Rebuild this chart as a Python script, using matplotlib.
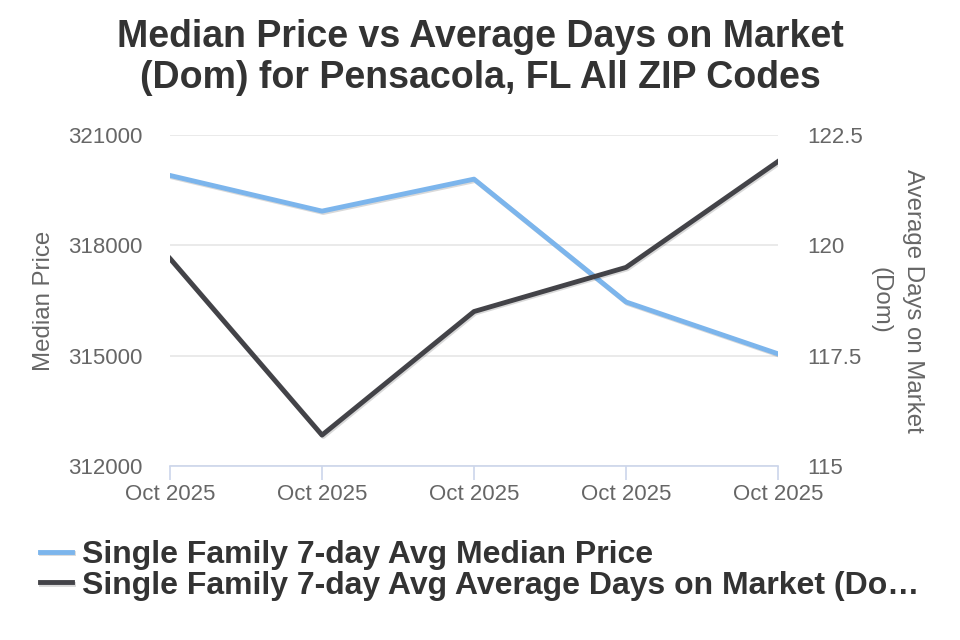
import matplotlib
matplotlib.use("Agg")
import matplotlib.pyplot as plt
import matplotlib.patheffects as pe

plt.rcParams['font.family'] = ['Liberation Sans', 'DejaVu Sans']

# data
dates = ["Oct 2025", "Oct 2025", "Oct 2025", "Oct 2025", "Oct 2025"]
median_price = [319900, 318930, 319800, 316460, 315050]
avg_dom = [119.7, 115.7, 118.5, 119.5, 121.9]
price_ticks = [312000, 315000, 318000, 321000]
dom_ticks = [115, 117.5, 120, 122.5]
dom_tick_labels = ["115", "117.5", "120", "122.5"]

blue = "#7cb5ec"
dark = "#434348"
grey = "#666666"

fig = plt.figure(figsize=(9.6, 6.4), dpi=100)
ax = fig.add_axes([170/960, 1-466/640, 608/960, 331/640])
ax2 = ax.twinx()

shadow = [pe.SimpleLineShadow(offset=(1, -1), alpha=0.15, shadow_color="black"), pe.Normal()]
x = list(range(len(dates)))
l1, = ax.plot(x, median_price, color=blue, lw=3.5, solid_joinstyle="round",
              path_effects=shadow, zorder=3)
l2, = ax2.plot(x, avg_dom, color=dark, lw=3.5, solid_joinstyle="round",
               path_effects=shadow, zorder=3)

ax.set_xlim(0, 4)
ax.set_ylim(312000, 321000)
ax2.set_ylim(115, 122.5)
ax.set_yticks(price_ticks)
ax.set_yticklabels([str(t) for t in price_ticks])
ax2.set_yticks(dom_ticks)
ax2.set_yticklabels(dom_tick_labels)
ax.set_xticks(x)
ax.set_xticklabels(dates)

ax.grid(axis="y", color="#e6e6e6", lw=1.2)
ax.set_axisbelow(True)
for a in (ax, ax2):
    for s in ["top", "left", "right", "bottom"]:
        a.spines[s].set_visible(False)
ax.spines["bottom"].set_visible(True)
ax.spines["bottom"].set_color("#ccd6eb")
ax.spines["bottom"].set_linewidth(1.2)

ax.tick_params(axis="x", colors="#ccd6eb", length=10, width=1.2, labelcolor=grey,
               labelsize=16, pad=3)
ax.tick_params(axis="y", length=0, labelcolor=grey, labelsize=16, pad=20)
ax2.tick_params(axis="y", length=0, labelcolor=grey, labelsize=16, pad=21)

ax.set_ylabel("Median Price", color=grey, fontsize=17.3, labelpad=9)
ax2.set_ylabel("Average Days on Market\n(Dom)", color=grey, fontsize=17.3,
               rotation=-90, labelpad=44, linespacing=1.6)

fig.suptitle("Median Price vs Average Days on Market\n(Dom) for Pensacola, FL All ZIP Codes",
             x=0.5, y=1-19/640, va="top", fontsize=27, fontweight="bold", color="#333333",
             linespacing=1.17)

fig.legend([l1, l2],
           ["Single Family 7-day Avg Median Price",
            "Single Family 7-day Avg Average Days on Market (Do\u2026"],
           loc="upper left", bbox_to_anchor=(40/960, 1-540/640), frameon=False,
           handlelength=1.0, handletextpad=0.32, labelspacing=0.02,
           prop={"size": 23, "weight": "bold"}, labelcolor="#333333",
           borderaxespad=0, borderpad=0)

fig.savefig("out.png", dpi=100)
